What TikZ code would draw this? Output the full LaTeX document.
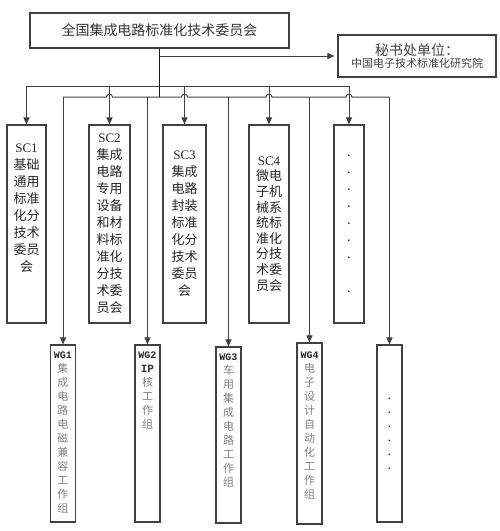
\documentclass[tikz,border=0pt]{standalone}
\usepackage{fontspec}
\setmainfont{Liberation Serif}
\setmonofont{Liberation Mono}
\newfontfamily\cjk{Noto Sans CJK SC}
\usetikzlibrary{arrows.meta,calc,positioning}
\definecolor{lineGray}{HTML}{404040}
\definecolor{boxGray}{HTML}{404040}
\newcommand{\wglab}[1]{{\color{black!85}\ttfamily\bfseries\fontsize{10}{14}\selectfont #1}}

\begin{document}
\begin{tikzpicture}[
  x=1pt, y=-1pt,
  box/.style={draw=boxGray, line width=1.1pt, inner sep=0pt},
  scbox/.style={box, minimum height=198pt},
  wgbox/.style={box, minimum width=25pt},
  sctxt/.style={font=\cjk\fontsize{13}{17}\selectfont, align=center, text=black!85},
  wgtxt/.style={font=\cjk\fontsize{11}{14}\selectfont, align=center, text=black!50, anchor=north},
  arrow/.style={-{Triangle[length=7pt,width=6pt]}, line width=1pt, draw=lineGray},
  bus/.style={line width=1pt, draw=lineGray},
  trunk/.style={line width=1.8pt, draw=black!90}
]
\useasboundingbox (0,0) rectangle (499,531);

% committee and secretariat
\node[box, minimum width=259pt, minimum height=35pt, font=\cjk\fontsize{14}{16}\selectfont, text=black!80]
  (top) at (159.5,30.5) {全国集成电路标准化技术委员会};
\node[box, minimum width=158pt, minimum height=42pt, align=center, text=black!75]
  (sec) at (417,56)
  {{\cjk\fontsize{14}{17}\selectfont 秘书处单位：}\\
   {\cjk\fontsize{11}{14}\selectfont 中国电子技术标准化研究院}};

% sub-committees
\node[scbox, minimum width=39pt] (sc1) at (26.5,224) {};
\node[scbox, minimum width=41pt] (sc2) at (109.5,224) {};
\node[scbox, minimum width=43pt] (sc3) at (184.5,224) {};
\node[scbox, minimum width=40pt] (sc4) at (269,224) {};
\node[scbox, minimum width=30pt] (sc5) at (349,224) {};

\node[sctxt] (sc1t) at ($(sc1)+(0,-16)$) {{\rmfamily SC1}\\基础\\通用\\标准\\化分\\技术\\委员\\会};
\node[sctxt] (sc2t) at (sc2) {{\rmfamily SC2}\\集成\\电路\\专用\\设备\\和材\\料标\\准化\\分技\\术委\\员会};
\node[sctxt] (sc3t) at (sc3) {{\rmfamily SC3}\\集成\\电路\\封装\\标准\\化分\\技术\\委员\\会};
\node[sctxt, font=\cjk\fontsize{13}{15.6}\selectfont] (sc4t) at (sc4) {{\rmfamily SC4}\\微电\\子机\\械系\\统标\\准化\\分技\\术委\\员会};
\node[sctxt] (sc5t) at (sc5) {.\\.\\.\\.\\.\\.\\.\\[17pt].};

% working groups
\node[wgbox, minimum height=177pt] (wg1) at (63,433.5) {};
\node[wgbox, minimum height=177pt] (wg2) at (147.5,433.5) {};
\node[wgbox, minimum height=176pt] (wg3) at (228.5,435) {};
\node[wgbox, minimum height=181pt] (wg4) at (309.5,433.5) {};
\node[wgbox, minimum height=177pt] (wg5) at (389.5,433.5) {};

\node[wgtxt] (wg1t) at ([yshift=-4pt]wg1.north) {\wglab{WG1}\\集\\成\\电\\路\\电\\磁\\兼\\容\\工\\作\\组};
\node[wgtxt] (wg2t) at ([yshift=-4pt]wg2.north) {\wglab{WG2}\\{\color{black!80}\ttfamily\bfseries IP}\\核\\工\\作\\组};
\node[wgtxt] (wg3t) at ([yshift=-4pt]wg3.north) {\wglab{WG3}\\车\\用\\集\\成\\电\\路\\工\\作\\组};
\node[wgtxt] (wg4t) at ([yshift=-6pt]wg4.north) {\wglab{WG4}\\电\\子\\设\\计\\自\\动\\化\\工\\作\\组};
\node[wgtxt, text=black] (wg5t) at ([yshift=-50pt]wg5.north) {.\\.\\.\\.\\.\\.};

% buses
\coordinate (upL) at (26.5,86);
\coordinate (lowL) at (63,97);

\draw[bus] (sc1.north |- upL) -- (sc5.north |- upL);
\draw[bus] (wg1.north |- lowL)
  foreach \n in {sc2,sc3,sc4,sc5} {
    -- ($(\n.north |- lowL)+(-3,0)$) to[out=90, in=90, looseness=1.6] ++(6,0)
  } -- (wg5.north |- lowL);

\foreach \n in {sc1,sc2,sc3,sc4,sc5}
  \draw[arrow] (\n.north |- upL) -- (\n.north);
\foreach \n in {wg1,wg2,wg3,wg4,wg5}
  \draw[arrow] (\n.north |- lowL) -- (\n.north);

\draw[trunk] (top.south) -- (top.south |- lowL);
\draw[arrow, shorten >=3pt] (top.south |- sec.west) -- (sec.west);
\end{tikzpicture}
\end{document}
